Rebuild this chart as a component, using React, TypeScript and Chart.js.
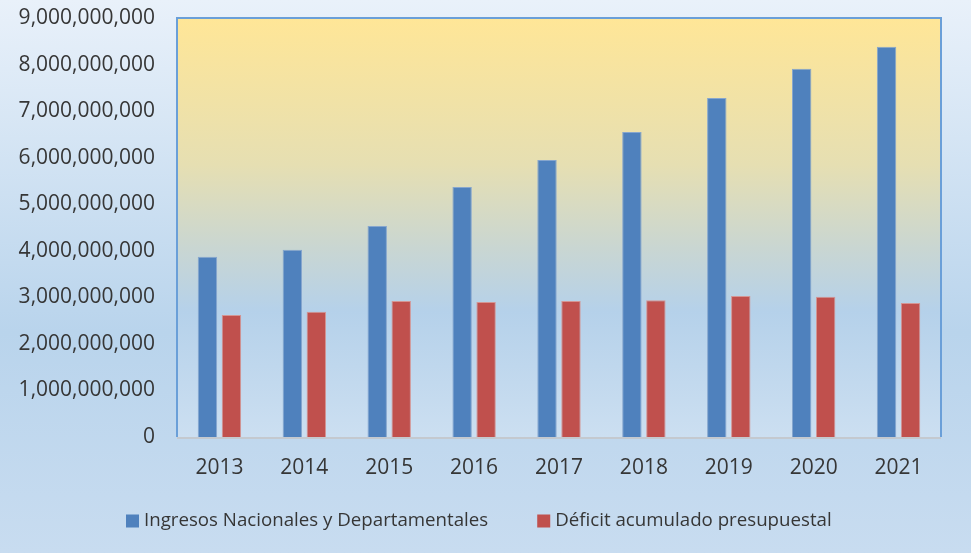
import React, { useEffect, useRef } from "react";
import { Chart, registerables } from "chart.js";

Chart.register(...registerables);

const years = ["2013", "2014", "2015", "2016", "2017", "2018", "2019", "2020", "2021"];
const ingresos = [3.87e9, 4.02e9, 4.53e9, 5.37e9, 5.95e9, 6.55e9, 7.28e9, 7.91e9, 8.38e9];
const deficit = [2.62e9, 2.69e9, 2.92e9, 2.9e9, 2.92e9, 2.94e9, 3.03e9, 3.01e9, 2.88e9];
const seriesNames = ["Ingresos Nacionales y Departamentales", "Déficit acumulado presupuestal"];
const seriesColors = ["#4F81BD", "#C0504D"];
const seriesBorders = ["#86A6CE", "#D49593"];

const FONT = "'Open Sans', 'Noto Sans', sans-serif";
const TEXT = "#363636";

const bgPlugin = {
  id: "bgPlugin",
  beforeDraw(chart: any) {
    const { ctx, width, height, chartArea } = chart;
    ctx.save();
    const g = ctx.createLinearGradient(0, 0, 0, height);
    g.addColorStop(0, "#E9F1FA");
    g.addColorStop(0.6, "#B9D4EC");
    g.addColorStop(1, "#C8DCF0");
    ctx.fillStyle = g;
    ctx.fillRect(0, 0, width, height);
    if (chartArea) {
      const { left, top, right, bottom } = chartArea;
      const pg = ctx.createLinearGradient(0, top, 0, bottom);
      pg.addColorStop(0, "#FFE697");
      pg.addColorStop(0.35, "#E6DFB2");
      pg.addColorStop(0.55, "#C9D6D2");
      pg.addColorStop(0.7, "#B5D1EA");
      pg.addColorStop(1, "#CCDFF1");
      ctx.fillStyle = pg;
      ctx.fillRect(left, top, right - left, bottom - top);
      ctx.strokeStyle = "#6A9FD8";
      ctx.lineWidth = 2;
      ctx.beginPath();
      ctx.moveTo(left, bottom);
      ctx.lineTo(left, top);
      ctx.lineTo(right, top);
      ctx.lineTo(right, bottom);
      ctx.stroke();
      ctx.strokeStyle = "#C4C9CF";
      ctx.beginPath();
      ctx.moveTo(left, bottom + 1);
      ctx.lineTo(right, bottom + 1);
      ctx.stroke();
    }
    ctx.restore();
  },
};

const legendPlugin = {
  id: "customLegend",
  afterDraw(chart: any) {
    const { ctx } = chart;
    const box = 13;
    const gapText = 5;
    const gapItems = 49;
    const cy = 521;
    ctx.save();
    ctx.font = `18.7px ${FONT}`;
    ctx.textBaseline = "middle";
    ctx.textAlign = "left";
    let x = 126;
    chart.data.datasets.forEach((d: any) => {
      const w = box + gapText + ctx.measureText(d.label).width;
      ctx.fillStyle = d.backgroundColor;
      ctx.fillRect(x, cy - box / 2, box, box);
      ctx.fillStyle = TEXT;
      ctx.fillText(d.label, x + box + gapText, cy);
      x += w + gapItems;
    });
    ctx.restore();
  },
};

export default function App() {
  const ref = useRef<HTMLCanvasElement>(null);
  useEffect(() => {
    document.body.style.margin = "0";
    const chart = new Chart(ref.current!, {
      type: "bar",
      data: {
        labels: years,
        datasets: [
          {
            label: seriesNames[0],
            data: ingresos,
            backgroundColor: seriesColors[0],
            borderColor: seriesBorders[0],
            borderWidth: 1,
            categoryPercentage: 0.565,
            barPercentage: 0.81,
          },
          {
            label: seriesNames[1],
            data: deficit,
            backgroundColor: seriesColors[1],
            borderColor: seriesBorders[1],
            borderWidth: 1,
            categoryPercentage: 0.565,
            barPercentage: 0.81,
          },
        ],
      },
      options: {
        animation: false,
        responsive: false,
        layout: { padding: { top: 18, right: 30, bottom: 0, left: 0 } },
        scales: {
          x: {
            grid: { display: false, drawTicks: false },
            border: { display: false },
            ticks: { color: TEXT, font: { family: FONT, size: 21 }, padding: 18 },
            afterFit: (s: any) => {
              s.height = 116;
              s.paddingLeft = 0;
              s.paddingRight = 0;
            },
          },
          y: {
            min: 0,
            max: 9e9,
            grid: { display: false, drawTicks: false },
            border: { display: false },
            ticks: {
              stepSize: 1e9,
              color: TEXT,
              padding: 22,
              font: { family: FONT, size: 21 },
              callback: (v: any) => Number(v).toLocaleString("en-US"),
            },
            afterFit: (s: any) => {
              s.width = 177;
              s.paddingTop = 0;
              s.paddingBottom = 0;
            },
          },
        },
        plugins: {
          legend: { display: false },
          tooltip: { enabled: false },
        },
      },
      plugins: [bgPlugin, legendPlugin],
    });
    return () => chart.destroy();
  }, []);
  return <canvas ref={ref} width={971} height={553} style={{ display: "block" }} />;
}
